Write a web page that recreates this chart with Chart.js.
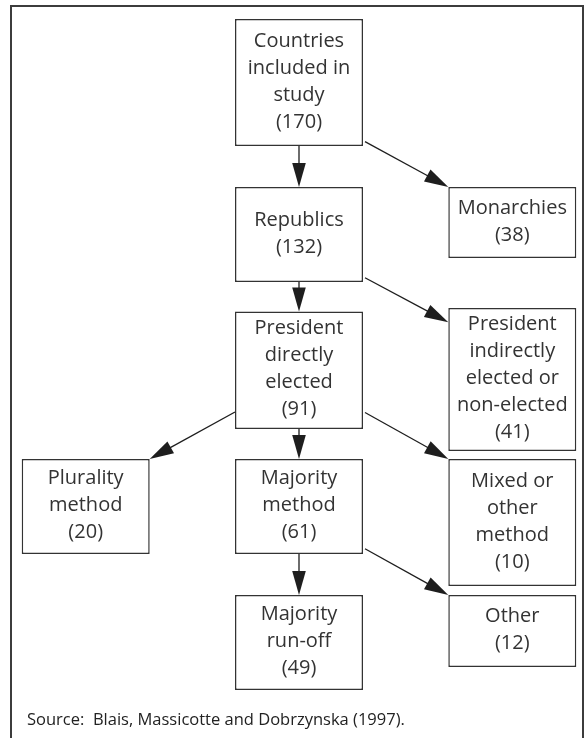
<!DOCTYPE html>
<html lang="en">
<head>
  <meta charset="UTF-8">
  <title>Countries included in study</title>
  <script src="https://cdn.jsdelivr.net/npm/chart.js"></script>
  <style>
    html, body {
      margin: 0;
      padding: 0;
      background: #fff;
    }
    .wrap {
      position: relative;
      width: 588px;
      height: 738px;
    }
  </style>
</head>
<body>
  <div class="wrap">
    <canvas id="flow"></canvas>
  </div>

  <script>
    // node texts and counts
    const nodeLabels = [
      ['Countries', 'included in', 'study'],
      ['Republics'],
      ['Monarchies'],
      ['President', 'directly', 'elected'],
      ['President', 'indirectly', 'elected or', 'non-elected'],
      ['Plurality', 'method'],
      ['Majority', 'method'],
      ['Mixed or', 'other', 'method'],
      ['Majority', 'run-off'],
      ['Other']
    ];
    const nodeCounts = [170, 132, 38, 91, 41, 20, 61, 10, 49, 12];

    // which box points to which
    const edgeFrom = [0, 0, 1, 1, 3, 3, 3, 6, 6];
    const edgeTo   = [1, 2, 3, 4, 5, 6, 7, 8, 9];

    const sourceNote = 'Source:  Blais, Massicotte and Dobrzynska (1997).';

    // layout: column of each box, top and bottom of each box
    const nodeCol    = [1, 1, 2, 1, 2, 0, 1, 2, 1, 2];
    const nodeTop    = [19, 187, 187, 311.5, 308, 459, 459, 459, 595, 595];
    const nodeBottom = [146, 282, 258, 429, 451, 554, 554, 586, 690, 667];
    // where side arrows leave the parent / reach the child (share of box height)
    const edgeStart = [null, 0.965, null, 0.955, 0.855, null, 0.86, null, 0.945];
    const edgeEnd   = [null, 0, null, 0.1, 0, null, 0, null, 0];

    const colStep = 213.3;
    const firstCol = 85.7;
    const W = 588, H = 738;

    const boxes = nodeCol.map((c, i) => ({ x: c, y: [nodeTop[i], nodeBottom[i]] }));

    function arrow(ctx, x1, y1, x2, y2) {
      const len = 24, half = 6.8;
      const dx = x2 - x1, dy = y2 - y1;
      const d = Math.sqrt(dx * dx + dy * dy);
      const ux = dx / d, uy = dy / d;
      const bx = x2 - ux * len, by = y2 - uy * len;
      ctx.beginPath();
      ctx.moveTo(x1, y1);
      ctx.lineTo(bx + ux * 2, by + uy * 2);
      ctx.stroke();
      ctx.beginPath();
      ctx.moveTo(x2, y2);
      ctx.lineTo(bx - uy * half, by + ux * half);
      ctx.lineTo(bx + uy * half, by - ux * half);
      ctx.closePath();
      ctx.fill();
    }

    const flowPlugin = {
      id: 'flow',
      beforeDraw(chart) {
        const ctx = chart.ctx;
        ctx.save();
        ctx.fillStyle = '#fff';
        ctx.fillRect(0, 0, W, H);
        ctx.strokeStyle = '#3c3c3c';
        ctx.lineWidth = 2;
        ctx.strokeRect(11, 6, 572, 760);
        ctx.restore();
      },
      afterDatasetsDraw(chart) {
        const ctx = chart.ctx;
        const els = chart.getDatasetMeta(0).data;
        const rect = els.map(el => {
          const p = el.getProps(['x', 'y', 'base', 'width'], true);
          return {
            l: p.x - p.width / 2, r: p.x + p.width / 2, cx: p.x,
            t: Math.min(p.y, p.base), b: Math.max(p.y, p.base)
          };
        });

        ctx.save();
        ctx.strokeStyle = '#1e1e1e';
        ctx.fillStyle = '#1e1e1e';
        ctx.lineWidth = 1.3;
        edgeFrom.forEach((f, i) => {
          const a = rect[f], b = rect[edgeTo[i]];
          if (nodeCol[edgeTo[i]] === nodeCol[f]) {
            arrow(ctx, a.cx, a.b, b.cx, b.t);
          } else if (nodeCol[edgeTo[i]] > nodeCol[f]) {
            arrow(ctx, a.r + 2, a.t + edgeStart[i] * (a.b - a.t), b.l, b.t + edgeEnd[i] * (b.b - b.t));
          } else {
            arrow(ctx, a.l, a.t + edgeStart[i] * (a.b - a.t), b.r, b.t + edgeEnd[i] * (b.b - b.t));
          }
        });

        ctx.fillStyle = '#333';
        ctx.font = '20px "Open Sans", "Noto Sans", sans-serif';
        ctx.textAlign = 'center';
        ctx.textBaseline = 'middle';
        const lh = 27;
        rect.forEach((r, i) => {
          const lines = nodeLabels[i].concat(['(' + nodeCounts[i] + ')']);
          const mid = (r.t + r.b) / 2 - 1;
          const y0 = mid - (lines.length - 1) * lh / 2;
          lines.forEach((s, k) => ctx.fillText(s, r.cx, y0 + k * lh));
        });

        ctx.textAlign = 'left';
        ctx.textBaseline = 'alphabetic';
        ctx.fillStyle = '#222';
        ctx.font = '16.5px "Open Sans", "Noto Sans", sans-serif';
        ctx.fillText(sourceNote, 27, 725);
        ctx.restore();
      }
    };

    new Chart(document.getElementById('flow'), {
      type: 'bar',
      data: {
        datasets: [{
          data: boxes,
          backgroundColor: '#ffffff',
          borderColor: '#333333',
          borderWidth: 1.5,
          borderSkipped: false,
          barThickness: 128,
          inflateAmount: 0
        }]
      },
      options: {
        responsive: true,
        maintainAspectRatio: false,
        animation: false,
        events: [],
        layout: { padding: 0 },
        plugins: {
          legend: { display: false },
          tooltip: { enabled: false }
        },
        scales: {
          x: {
            type: 'linear',
            display: false,
            offset: false,
            min: -firstCol / colStep,
            max: (W - firstCol) / colStep
          },
          y: {
            type: 'linear',
            display: false,
            reverse: true,
            min: 0,
            max: H
          }
        }
      },
      plugins: [flowPlugin]
    });
  </script>
</body>
</html>
